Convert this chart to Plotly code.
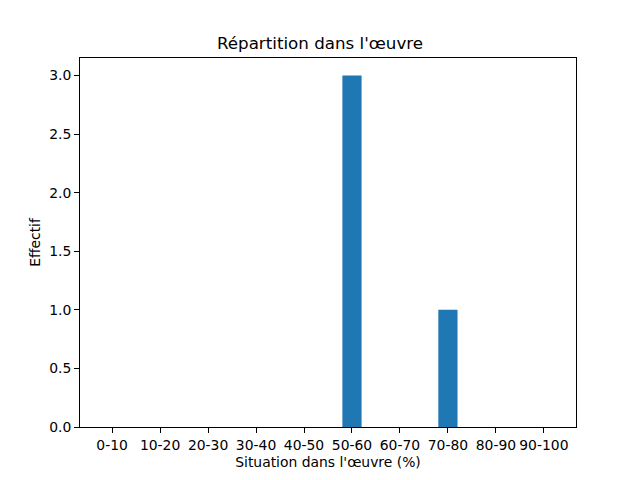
import plotly.graph_objects as go

categories = ["0-10", "10-20", "20-30", "30-40", "40-50",
              "50-60", "60-70", "70-80", "80-90", "90-100"]
counts = [0, 0, 0, 0, 0, 3, 0, 1, 0, 0]
y_ticks = [0.0, 0.5, 1.0, 1.5, 2.0, 2.5, 3.0]

positions = list(range(len(categories)))

fig = go.Figure()
fig.add_trace(go.Bar(
    x=positions,
    y=counts,
    width=0.4,
    marker=dict(color="#1f77b4", line=dict(width=0)),
))

axis_style = dict(
    showline=True, linecolor="black", linewidth=1, mirror=True,
    ticks="outside", ticklen=5, tickcolor="black",
    showgrid=False, zeroline=False,
    tickfont=dict(size=13.9, color="black"),
)

fig.update_xaxes(
    range=[-0.67, 9.67],
    tickvals=positions, ticktext=categories,
    title=dict(text="Situation dans l'œuvre (%)", font=dict(size=13.9), standoff=5),
    **axis_style,
)
fig.update_yaxes(
    range=[0, 3.15],
    tickvals=y_ticks, ticktext=[f"{v:.1f}" for v in y_ticks],
    title=dict(text="Effectif", font=dict(size=13.9), standoff=5),
    **axis_style,
)

fig.update_layout(
    width=640, height=480,
    margin=dict(l=80, r=64, t=58, b=53),
    paper_bgcolor="white", plot_bgcolor="white",
    font=dict(family="DejaVu Sans", color="black"),
    title=dict(text="Répartition dans l'œuvre", x=0.5, xanchor="center",
               y=0.91, yanchor="middle", font=dict(size=16.7)),
    showlegend=False,
)

# drop the page's default body margin so the figure sits at the window corner
fig.write_html("out.html", config={"displayModeBar": False},
               post_script="document.body.style.margin='0';")
